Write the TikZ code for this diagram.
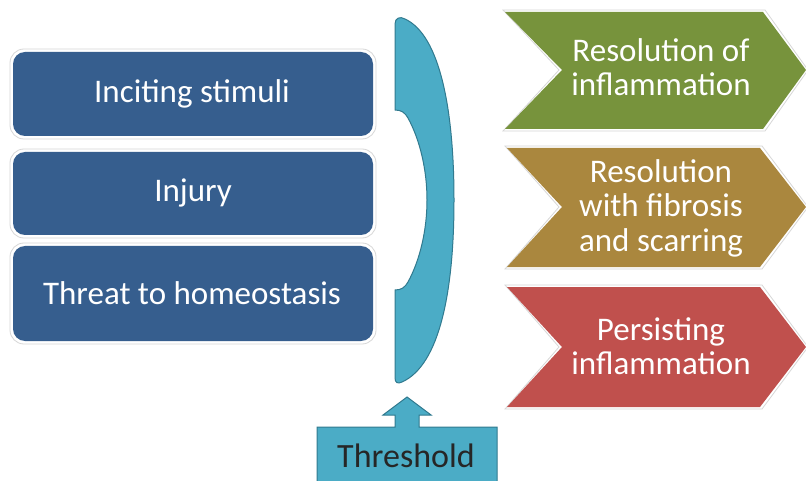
\documentclass[tikz,border=0pt]{standalone}
\usepackage{fontspec}
\setmainfont{Carlito}
\definecolor{boxblue}{RGB}{54,94,142}
\definecolor{aqua}{RGB}{75,172,198}
\definecolor{aquadark}{RGB}{49,122,143}
\definecolor{olive}{RGB}{119,147,60}
\definecolor{gold}{RGB}{170,135,62}
\definecolor{brick}{RGB}{192,80,77}
\definecolor{halo}{RGB}{215,215,215}
\tikzset{
  bluebox/.style={fill=boxblue, draw=none, rounded corners=12pt},
  halobox/.style={draw=halo, line width=0.8pt, rounded corners=14pt},
  txt/.style={text=white, align=center, font=\fontsize{33}{34.5}\selectfont},
  chev/.style={draw=halo, line width=0.8pt},
}
\begin{document}
\begin{tikzpicture}[x=1pt,y=-1pt]
\useasboundingbox (0,0) rectangle (806,481);
\fill[white] (0,0) rectangle (806,481);
% left boxes
\foreach \t/\b in {52/136,152/235,246/341}{
  \draw[halobox] (10,\t-3) rectangle (376,\b+3);
  \fill[bluebox] (13,\t) rectangle (373,\b);
}
\node[txt] (inc) at (192,94) {Inciting stimuli};
\node[txt] (inj) at (193,193) {Injury};
\node[txt] (thr) at (192,293) {Threat to homeostasis};
% bracket
\draw[fill=aqua, draw=aquadark, line width=1pt]
  (395,24) -- (395,110)
  .. controls (402,110) and (405,113) .. (408,118)
  .. controls (420,140) and (427,170) .. (427,200)
  .. controls (427,230) and (420,260) .. (408,282)
  .. controls (405,287) and (402,290) .. (395,290)
  -- (395,378)
  .. controls (395,383) and (398,384) .. (402,382)
  .. controls (440,365) and (454,290) .. (454,200)
  .. controls (454,110) and (440,35) .. (405,19)
  .. controls (400,16) and (395,18) .. (395,24) -- cycle;
% threshold
\draw[fill=aqua, draw=aquadark, line width=1pt]
  (407,397) -- (431,415) -- (419,415) -- (419,427) -- (497,427) -- (497,484)
  -- (317,484) -- (317,427) -- (395,427) -- (395,415) -- (383,415) -- cycle;
\node[font=\fontsize{34}{34}\selectfont, text=black!85] (th) at (406,456) {Threshold};
% chevrons
\draw[chev] (503,10) -- (765,10) -- (808,70) -- (765,131) -- (503,131) -- (559,70) -- cycle;
\fill[olive] (505,12) -- (763,12) -- (806,70) -- (763,129) -- (505,129) -- (562,70) -- cycle;
\node[txt] (r1) at (661,67) {Resolution of\\inflammation};
\draw[chev] (505,146) -- (762,146) -- (808,207) -- (762,269) -- (505,269) -- (559,207) -- cycle;
\fill[gold] (507,148) -- (760,148) -- (806,207) -- (760,267) -- (507,267) -- (562,207) -- cycle;
\node[txt] (r2) at (661,208) {Resolution\\with fibrosis\\and scarring};
\draw[chev] (505,285) -- (762,285) -- (808,347) -- (762,409) -- (505,409) -- (559,347) -- cycle;
\fill[brick] (507,287) -- (760,287) -- (806,347) -- (760,407) -- (507,407) -- (562,347) -- cycle;
\node[txt] (r3) at (661,346) {Persisting\\inflammation};
\end{tikzpicture}
\end{document}
